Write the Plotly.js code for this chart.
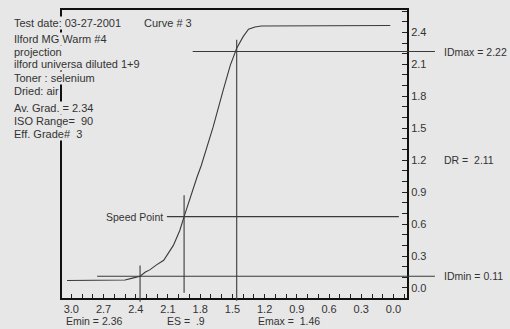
<!DOCTYPE html>
<html><head><meta charset="utf-8">
<script src="https://cdn.plot.ly/plotly-3.0.1.min.js"></script>
<style>
html,body{margin:0;padding:0;background:#e7e7e7;width:510px;height:329px;overflow:hidden;}
#chart{position:absolute;left:0;top:0;width:510px;height:329px;}
</style></head>
<body>
<div id="chart"></div>
<script>
// ---- data ----
const CURVE_X = [3.04, 2.50, 2.44, 2.36, 2.31, 2.27, 2.21, 2.14, 2.05, 1.99, 1.95, 1.89, 1.83, 1.79, 1.74, 1.68, 1.585, 1.52, 1.46, 1.40, 1.35, 1.29, 1.23, 0.03];
const CURVE_Y = [0.07, 0.075, 0.09, 0.11, 0.15, 0.17, 0.215, 0.26, 0.40, 0.54, 0.67, 0.86, 1.04, 1.15, 1.32, 1.51, 1.86, 2.09, 2.25, 2.36, 2.43, 2.45, 2.46, 2.465];
const X_TICK_VALS = [3.0, 2.7, 2.4, 2.1, 1.8, 1.5, 1.2, 0.9, 0.6, 0.3, 0.0];
const X_TICK_TEXT = ['3.0', '2.7', '2.4', '2.1', '1.8', '1.5', '1.2', '0.9', '0.6', '0.3', '0.0'];
const Y_TICK_VALS = [0.0, 0.3, 0.6, 0.9, 1.2, 1.5, 1.8, 2.1, 2.4];
const Y_TICK_TEXT = ['0.0', '0.3', '0.6', '0.9', '1.2', '1.5', '1.8', '2.1', '2.4'];
const DMAX = 2.22;
const DMIN = 0.11;
const DR = 2.11;
const EMIN = 2.36;
const EMAX = 1.46;
const ES = 0.9;
const SPEED_X = 1.95;
const SPEED_Y = 0.67;
const INFO_LINES = [
  'Test date: 03-27-2001',
  'Ilford MG Warm #4',
  'projection',
  'ilford universa diluted 1+9',
  'Toner : selenium',
  'Dried: air',
  'Av. Grad. = 2.34',
  'ISO Range=\u00a0\u00a090',
  'Eff. Grade#\u00a0\u00a03'
];
const CURVE_LABEL = 'Curve # 3';

// ---- layout ----
const XR = [3.087, -0.126];
const YR = [-0.094, 2.61];
const M = {l: 62, r: 103, t: 10, b: 31};
const PW = 510 - M.l - M.r, PH = 329 - M.t - M.b;
const xp = v => (XR[0] - v) / (XR[0] - XR[1]);
const yp = v => (v - YR[0]) / (YR[1] - YR[0]);
const pxX = px => (px - M.l) / PW;
const pxY = py => (329 - M.b - py) / PH;

const BG = '#e7e7e7';
const INK = '#333333';
const FONT = 'Liberation Sans, Arial, sans-serif';
const lineStyle = {color: '#3a3a3a', width: 1.1};

const trace = {
  type: 'scatter', mode: 'lines', x: CURVE_X, y: CURVE_Y,
  line: {color: '#3a3a3a', width: 1.1}, hoverinfo: 'skip', showlegend: false
};

const shapes = [
  {type: 'line', xref: 'paper', yref: 'y', x0: xp(2.76), x1: xp(-0.386), y0: DMIN, y1: DMIN, line: lineStyle},
  {type: 'line', xref: 'paper', yref: 'y', x0: xp(1.87), x1: xp(-0.386), y0: DMAX, y1: DMAX, line: lineStyle},
  {type: 'line', xref: 'x', yref: 'y', x0: 2.11, x1: -0.05, y0: SPEED_Y, y1: SPEED_Y, line: lineStyle},
  {type: 'line', xref: 'x', yref: 'y', x0: SPEED_X, x1: SPEED_X, y0: 0.87, y1: -0.045, line: lineStyle},
  {type: 'line', xref: 'x', yref: 'paper', x0: EMIN, x1: EMIN, y0: yp(0.21), y1: yp(-0.13), line: lineStyle},
  {type: 'line', xref: 'x', yref: 'paper', x0: EMAX, x1: EMAX, y0: yp(2.33), y1: yp(-0.12), line: lineStyle}
];

const INFO_Y = [23.3, 39, 51.7, 64.3, 77.7, 90.7, 108.3, 121, 134];
const annotations = [];
for (let i = INFO_LINES.length - 1; i >= 0; i--) {
  annotations.push({xref: 'paper', yref: 'paper', x: pxX(13), y: pxY(INFO_Y[i]), xanchor: 'left', yanchor: 'middle',
    text: INFO_LINES[i], showarrow: false, bgcolor: BG, borderpad: 0, font: {family: FONT, size: 11, color: INK}});
}
annotations.push({xref: 'paper', yref: 'paper', x: pxX(143), y: pxY(23.3), xanchor: 'left', yanchor: 'middle',
  text: CURVE_LABEL, showarrow: false, bgcolor: BG, borderpad: 0, font: {family: FONT, size: 11, color: INK}});
const sideFont = {family: FONT, size: 10.5, color: INK};
annotations.push({xref: 'paper', yref: 'y', x: pxX(442), y: DMAX, xanchor: 'left', yanchor: 'middle', text: 'IDmax = ' + DMAX.toFixed(2), showarrow: false, font: sideFont});
annotations.push({xref: 'paper', yref: 'y', x: pxX(442), y: DMIN, xanchor: 'left', yanchor: 'middle', text: 'IDmin = ' + DMIN.toFixed(2), showarrow: false, font: sideFont});
annotations.push({xref: 'paper', yref: 'y', x: pxX(442), y: 1.2, xanchor: 'left', yanchor: 'middle', text: 'DR =\u00a0\u00a0' + DR.toFixed(2), showarrow: false, font: sideFont});
annotations.push({xref: 'x', yref: 'y', x: 2.13, y: SPEED_Y, xanchor: 'right', yanchor: 'middle', text: 'Speed Point', showarrow: false, font: sideFont});
annotations.push({xref: 'paper', yref: 'paper', x: pxX(64), y: pxY(321), xanchor: 'left', yanchor: 'middle', text: 'Emin = ' + EMIN.toFixed(2), showarrow: false, font: sideFont});
annotations.push({xref: 'paper', yref: 'paper', x: pxX(165), y: pxY(321), xanchor: 'left', yanchor: 'middle', text: 'ES =\u00a0\u00a0' + String(ES).replace(/^0/, ''), showarrow: false, font: sideFont});
annotations.push({xref: 'paper', yref: 'paper', x: pxX(256), y: pxY(321), xanchor: 'left', yanchor: 'middle', text: 'Emax =\u00a0\u00a0' + EMAX.toFixed(2), showarrow: false, font: sideFont});

const layout = {
  width: 510, height: 329, margin: M,
  paper_bgcolor: BG, plot_bgcolor: BG,
  showlegend: false,
  font: {family: FONT, size: 11, color: INK},
  xaxis: {
    range: XR, showgrid: false, zeroline: false,
    showline: true, mirror: true, linecolor: '#111', linewidth: 2,
    tickmode: 'array', tickvals: X_TICK_VALS, ticktext: X_TICK_TEXT,
    ticks: 'inside', ticklen: 4, tickwidth: 1, tickcolor: '#222',
    minor: {tickmode: 'linear', tick0: 0, dtick: 0.1, ticks: 'inside', ticklen: 4, tickwidth: 1, tickcolor: '#222'},
    tickfont: {family: FONT, size: 11, color: INK}, fixedrange: true
  },
  yaxis: {
    range: YR, side: 'right', showgrid: false, zeroline: false,
    showline: true, mirror: true, linecolor: '#111', linewidth: 2,
    tickmode: 'array', tickvals: Y_TICK_VALS, ticktext: Y_TICK_TEXT,
    ticks: 'inside', ticklen: 5, tickwidth: 1, tickcolor: '#222',
    minor: {tickmode: 'linear', tick0: 0, dtick: 0.1, ticks: 'inside', ticklen: 5, tickwidth: 1, tickcolor: '#222'},
    tickfont: {family: FONT, size: 11, color: INK}, fixedrange: true
  },
  shapes: shapes,
  annotations: annotations
};

Plotly.newPlot('chart', [trace], layout, {displayModeBar: false, staticPlot: true});
</script>
</body></html>
